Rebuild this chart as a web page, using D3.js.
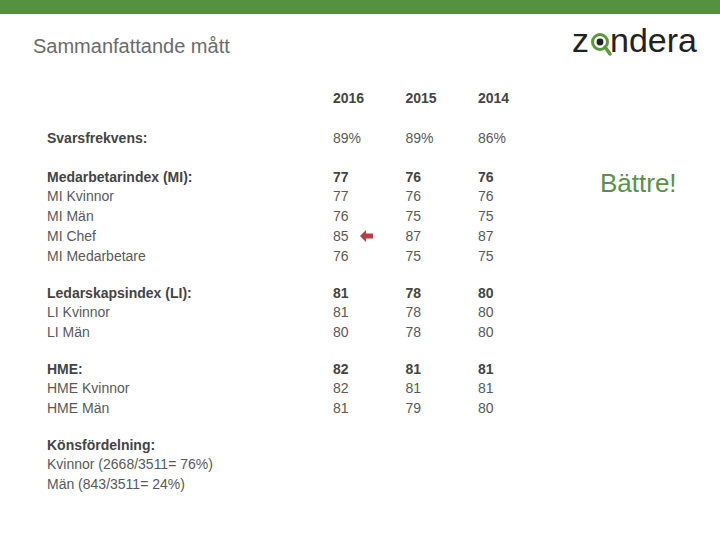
<!DOCTYPE html>
<html>
<head>
<meta charset="utf-8">
<script src="https://cdn.jsdelivr.net/npm/d3@7"></script>
<style>
  body { margin: 0; background: #fff; }
  svg { display: block; font-family: "Liberation Sans", Arial, sans-serif; }
</style>
</head>
<body>
<svg id="slide"></svg>
<script>
// table content
const years = ['2016', '2015', '2014'];
const groupTitles = ['Svarsfrekvens:', 'Medarbetarindex (MI):', 'Ledarskapsindex (LI):', 'HME:', 'Könsfördelning:'];
const groupValues = [['89%', '89%', '86%'], [77, 76, 76], [81, 78, 80], [82, 81, 81], null];
const groupBold = [false, true, true, true, false];
const rowLabels = [
    [],
    ['MI Kvinnor', 'MI Män', 'MI Chef', 'MI Medarbetare'],
    ['LI Kvinnor', 'LI Män'],
    ['HME Kvinnor', 'HME Män'],
    ['Kvinnor (2668/3511= 76%)', 'Män (843/3511= 24%)']
];
const rowValues = [
    [],
    [[77, 76, 76], [76, 75, 75], [85, 87, 87], [76, 75, 75]],
    [[81, 78, 80], [80, 78, 80]],
    [[82, 81, 81], [81, 79, 80]],
    [null, null]
];
const highlight = { group: 1, row: 2, year: '2016' };   // the red arrow

const W = 720, H = 540;
const FS = 14;
const svg = d3.select('#slide').attr('width', W).attr('height', H);

svg.append('rect').attr('x', 0).attr('y', 0).attr('width', W).attr('height', 14).attr('fill', '#559140');

svg.append('text')
    .attr('x', 33).attr('y', 53)
    .attr('font-size', 20).attr('fill', '#6b6b6b')
    .text('Sammanfattande mått');

// logo
const logo = svg.append('g').attr('transform', 'translate(572,52)');
const z = logo.append('text').attr('font-size', 34).attr('fill', '#222').text('z');
const zw = z.node().getComputedTextLength();
const ocx = zw + 11, ocy = -10;
logo.append('line').attr('x1', ocx + 5).attr('y1', ocy + 5).attr('x2', ocx + 10).attr('y2', ocy + 12)
    .attr('stroke', '#5a9a3f').attr('stroke-width', 3.5).attr('stroke-linecap', 'round');
logo.append('circle').attr('cx', ocx).attr('cy', ocy).attr('r', 7.5).attr('fill', 'none')
    .attr('stroke', '#5a9a3f').attr('stroke-width', 3);
logo.append('circle').attr('cx', ocx).attr('cy', ocy).attr('r', 3.4).attr('fill', '#222');
logo.append('text').attr('x', zw + 21).attr('font-size', 34).attr('fill', '#222').text('ndera');

// layout of rows
const rows = [];
let y = 138;
groupTitles.forEach((t, gi) => {
    rows.push({ label: t, values: groupValues[gi], bold: true, valBold: groupBold[gi], y: y, g: gi, r: -1 });
    let yy = y;
    rowLabels[gi].forEach((l, ri) => {
        yy += ri === 0 ? 19 : 20;
        rows.push({ label: l, values: rowValues[gi][ri], bold: false, valBold: false, y: yy, g: gi, r: ri });
    });
    y = yy + (rowLabels[gi].length ? 37 : 39);
});

const x = d3.scalePoint().domain(years).range([333, 478]);

svg.append('g').selectAll('text')
    .data(years).join('text')
    .attr('x', d => x(d)).attr('y', 98).attr('dy', '0.35em')
    .attr('font-size', FS).attr('font-weight', 'bold').attr('fill', '#444')
    .text(d => d);

const rowG = svg.append('g').selectAll('g')
    .data(rows).join('g')
    .attr('transform', d => `translate(0,${d.y})`);

rowG.append('text')
    .attr('x', 47).attr('dy', '0.35em')
    .attr('font-size', FS)
    .attr('font-weight', d => d.bold ? 'bold' : 'normal')
    .attr('fill', d => d.bold ? '#444' : '#595959')
    .text(d => d.label);

rowG.filter(d => d.values).selectAll('text.val')
    .data(d => d.values.map((v, i) => ({ v: v, year: years[i], bold: d.valBold })))
    .join('text').attr('class', 'val')
    .attr('x', d => x(d.year)).attr('dy', '0.35em')
    .attr('font-size', FS)
    .attr('font-weight', d => d.bold ? 'bold' : 'normal')
    .attr('fill', d => d.bold ? '#444' : '#595959')
    .text(d => d.v);

// arrow next to the value that went down
const hr = rows.find(d => d.g === highlight.group && d.r === highlight.row);
const ax = x(highlight.year) + 27, ay = hr.y;
svg.append('path')
    .attr('d', `M${ax},${ay} l6,-6 v3.5 h7 v5 h-7 v3.5 z`)
    .attr('fill', '#b5403f');

svg.append('text')
    .attr('x', 600).attr('y', 183).attr('dy', '0.35em')
    .attr('font-size', 26).attr('fill', '#5b9149')
    .text('Bättre!');
</script>
</body>
</html>
